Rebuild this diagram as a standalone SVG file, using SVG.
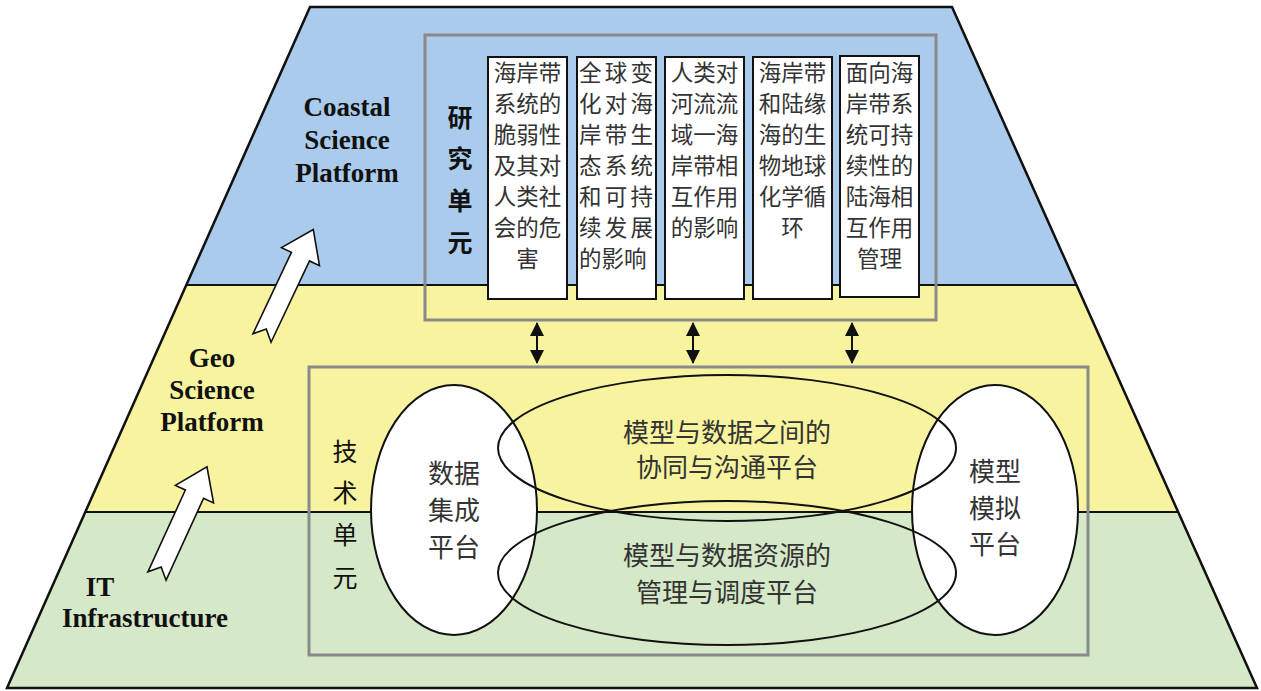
<svg xmlns="http://www.w3.org/2000/svg" width="1261" height="691" viewBox="0 0 1261 691">
<style>
.en{font-family:"Liberation Serif","Times New Roman",serif;font-weight:bold;font-size:27px;fill:#111;text-anchor:middle}
.cj{font-family:"Noto Sans CJK SC","Noto Sans CJK JP",sans-serif;fill:#333}
.col{font-size:22.5px;text-anchor:middle}
.big{font-size:26px;text-anchor:middle}
.unit{font-size:25px;text-anchor:middle;fill:#111}
.gbox{fill:none;stroke:#8a8a8a;stroke-width:3}
.colbox{fill:#fff;stroke:#111;stroke-width:2}
.ell{stroke:#111;stroke-width:2}
.arr{fill:#fff;stroke:#111;stroke-width:1.6;stroke-linejoin:miter}
.dbl{stroke:#111;stroke-width:2;fill:none;marker-start:url(#ah);marker-end:url(#ah)}
</style>
<defs>
<marker id="ah" viewBox="0 0 14 14" refX="13" refY="7" markerWidth="14" markerHeight="14" orient="auto-start-reverse" markerUnits="userSpaceOnUse">
<path d="M0,0 L14,7 L0,14 Z" fill="#111"/>
</marker>
<path id="blockarrow" d="M0,-10 L90,-10 L90,-21 L120,0 L90,21 L90,10 L0,10 L10,0 Z"/>
</defs>
<rect width="1261" height="691" fill="#fff"/>
<g id="layers">
<polygon points="310,7 952,7 1076,285 186,285" fill="#AACBEB"/>
<polygon points="186,285 1076,285 1178,512 85,512" fill="#F7F39F"/>
<polygon points="85,512 1178,512 1257,688 7,688" fill="#D5E8C7"/>
<line x1="186" y1="285" x2="1076" y2="285" stroke="#111" stroke-width="2"/>
<line x1="85" y1="512" x2="1178" y2="512" stroke="#111" stroke-width="2"/>
<polygon points="310,7 952,7 1257,688 7,688" fill="none" stroke="#111" stroke-width="2.5"/>
</g>
<g id="label-coastal">
<text class="en" x="347" y="116">Coastal</text>
<text class="en" x="347" y="149">Science</text>
<text class="en" x="347" y="182">Platform</text>
</g>
<g id="label-geo">
<text class="en" x="212" y="367">Geo</text>
<text class="en" x="212" y="399">Science</text>
<text class="en" x="212" y="431">Platform</text>
</g>
<g id="label-it">
<text class="en" x="100" y="596">IT</text>
<text class="en" x="145" y="627">Infrastructure</text>
</g>
<g id="research-unit">
<rect class="gbox" x="425" y="35" width="511" height="285"/>
<g class="cj unit" font-weight="bold">
<text x="460" y="127">研</text>
<text x="460" y="168">究</text>
<text x="460" y="210">单</text>
<text x="460" y="252">元</text>
</g>
</g>
<g id="col1">
<rect class="colbox" x="488" y="57" width="79" height="242"/>
<g class="cj col">
<text x="527.5" y="81">海岸带</text><text x="527.5" y="112">系统的</text><text x="527.5" y="143">脆弱性</text><text x="527.5" y="174">及其对</text><text x="527.5" y="205">人类社</text><text x="527.5" y="236">会的危</text><text x="527.5" y="267">害</text>
</g>
</g>
<g id="col2">
<rect class="colbox" x="577" y="57" width="79" height="242"/>
<g class="cj" font-size="22.5">
<text x="579" y="81" textLength="74" lengthAdjust="spacing">全球变</text><text x="579" y="112" textLength="74" lengthAdjust="spacing">化对海</text><text x="579" y="143" textLength="74" lengthAdjust="spacing">岸带生</text><text x="579" y="174" textLength="74" lengthAdjust="spacing">态系统</text><text x="579" y="205" textLength="74" lengthAdjust="spacing">和可持</text><text x="579" y="236" textLength="74" lengthAdjust="spacing">续发展</text><text x="579" y="267">的影响</text>
</g>
</g>
<g id="col3">
<rect class="colbox" x="665" y="57" width="79" height="242"/>
<g class="cj col">
<text x="704.5" y="81">人类对</text><text x="704.5" y="112">河流流</text><text x="704.5" y="143">域一海</text><text x="704.5" y="174">岸带相</text><text x="704.5" y="205">互作用</text><text x="704.5" y="236">的影响</text>
</g>
</g>
<g id="col4">
<rect class="colbox" x="753" y="57" width="79" height="242"/>
<g class="cj col">
<text x="792.5" y="81">海岸带</text><text x="792.5" y="112">和陆缘</text><text x="792.5" y="143">海的生</text><text x="792.5" y="174">物地球</text><text x="792.5" y="205">化学循</text><text x="792.5" y="236">环</text>
</g>
</g>
<g id="col5">
<rect class="colbox" x="840" y="56" width="79" height="241"/>
<g class="cj col">
<text x="879.5" y="81">面向海</text><text x="879.5" y="112">岸带系</text><text x="879.5" y="143">统可持</text><text x="879.5" y="174">续性的</text><text x="879.5" y="205">陆海相</text><text x="879.5" y="236">互作用</text><text x="879.5" y="267">管理</text>
</g>
</g>
<g id="tech-unit">
<rect class="gbox" x="309" y="367" width="779" height="288"/>
<g class="cj unit">
<text x="345" y="461">技</text>
<text x="345" y="502">术</text>
<text x="345" y="544">单</text>
<text x="345" y="587">元</text>
</g>
</g>
<g id="data-integration">
<ellipse class="ell" cx="454" cy="510" rx="83" ry="125" fill="#fff"/>
<g class="cj big"><text x="454" y="483">数据</text><text x="454" y="520">集成</text><text x="454" y="557">平台</text></g>
</g>
<g id="model-simulation">
<ellipse class="ell" cx="995" cy="510" rx="83" ry="125" fill="#fff"/>
<g class="cj big"><text x="995" y="481">模型</text><text x="995" y="518">模拟</text><text x="995" y="554">平台</text></g>
</g>
<g id="collab-platform">
<ellipse class="ell" cx="727" cy="448" rx="229" ry="73" fill="none"/>
<g class="cj big"><text x="727" y="442">模型与数据之间的</text><text x="727" y="477">协同与沟通平台</text></g>
</g>
<g id="manage-platform">
<ellipse class="ell" cx="727" cy="573" rx="229" ry="72" fill="none"/>
<g class="cj big"><text x="727" y="565">模型与数据资源的</text><text x="727" y="602">管理与调度平台</text></g>
</g>
<g id="connectors">
<line class="dbl" x1="537" y1="323" x2="537" y2="363"/>
<line class="dbl" x1="693" y1="323" x2="693" y2="363"/>
<line class="dbl" x1="852" y1="323" x2="852" y2="363"/>
<use href="#blockarrow" class="arr" transform="translate(262,338) rotate(-64.7)"/>
<use href="#blockarrow" class="arr" transform="translate(157,576) rotate(-65.4)"/>
</g>
</svg>
